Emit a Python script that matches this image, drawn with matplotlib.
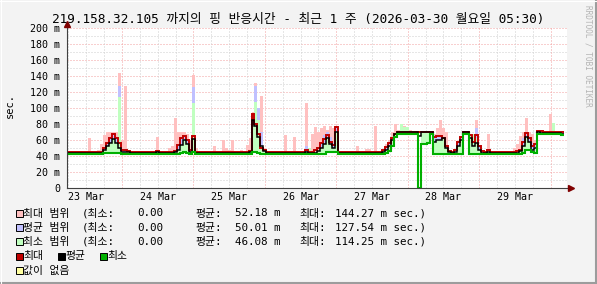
import numpy as np
import matplotlib
matplotlib.use("Agg")
import matplotlib.pyplot as plt
from matplotlib.patches import Rectangle
from matplotlib.lines import Line2D

W, H = 597, 284
FONT = ["DejaVu Sans Mono", "Noto Sans CJK KR"]
plt.rcParams["font.family"] = FONT

TITLE = "219.158.32.105 까지의 핑 반응시간 - 최근 1 주 (2026-03-30 월요일 05:30)"
DAY_LABELS = ["23 Mar", "24 Mar", "25 Mar", "26 Mar", "27 Mar", "28 Mar", "29 Mar"]
Y_TICKS = [0, 20, 40, 60, 80, 100, 120, 140, 160, 180, 200]
Y_LABELS = ["0", "20 m", "40 m", "60 m", "80 m", "100 m", "120 m", "140 m", "160 m", "180 m", "200 m"]

# legend text
RANGE_NAMES = ["최대 범위", "평균 범위", "최소 범위"]
RANGE_MIN = ["0.00", "0.00", "0.00"]
RANGE_AVG = ["52.18 m", "50.01 m", "46.08 m"]
RANGE_MAX = ["144.27 m sec.)", "127.54 m sec.)", "114.25 m sec.)"]

# hourly values (ms), one row per 24 h, starting 23 Mar 05:30
MAX_LINE = [
	45,45,45,45,45,45,45,45,45,45,45,45,50,56,62,67,62,56,48,47,46,45,45,45,
	45,45,45,45,45,45,46.5,45,45,45,45,45,46,54,62,65,60,48,65,45,45,45,45,45,
	45,45,45,45,45,45,45,45,45,45,45,45,45,46,93,80,68,50,47,45,45,45,45,45,
	45,45,45,45,45,45,45,45,47,45,45,47,50,56,61,66,58,54,76,45,45,45,45,45,
	45,45,45,45,45,45,45,45,45,45,47,51,56,62,68,69.5,69.5,69.5,69.5,69.5,69.5,69.5,69.5,69.5,
	69.5,69.5,69.5,64,65,65,62,53,46,44.5,47,57,64,69.5,69.5,66,58,66,52,46,45,47,45,45,
	45,45,45,45,45,45,45,46,48,58,69,62,52,55,71,71,70.5,69.5,69.5,69.5,69.5,69.5,69.5]
AVG_LINE = [
	44,44,44,44,44,44,44,44,44,44,44,44,47,52,56,61,56,50,45,45.5,45,44,44,44,
	44,44,44,44,44,44,45,44,44,44,44,44,44.5,48,54,60,55,45,61,44,44,44,44,44,
	44,44,44,44,44,44,44,44,44,44,44,44,44,44.5,85,77,64,52,46,44,44,44,44,44,
	44,44,44,44,44,44,44,44,45,44,44,44,46,50,55,62,55,50,70,44,44,44,44,44,
	44,44,44,44,44,44,44,44,44,44,45,48,53,60,68,69.5,69.5,69.5,69.5,69.5,69.5,69.5,65,69.5,
	69.5,69.5,69.5,57,60,60,63,50,45,44,45,53,60,69.5,69.5,62,52,56,47,44,44,45,44,44,
	44,44,44,44,44,44,44,44,46,53,64,58,48,50,69.5,69,69,69,69,69,69,69,68]
MIN_LINE = [
	42.5,42.5,42.5,42.5,42.5,42.5,42.5,42.5,42.5,42.5,42.5,42.5,43.5,44,44,44,44,43.5,42.5,42.5,42.5,42.5,42.5,42.5,
	42.5,42.5,42.5,42.5,42.5,42.5,42.5,42.5,42.5,42.5,42.5,42.5,42.5,42.5,44,44.5,44,42.5,45,42.5,42.5,42.5,42.5,42.5,
	42.5,42.5,42.5,42.5,42.5,42.5,42.5,42.5,42.5,42.5,42.5,42.5,42.5,42.5,44.5,45,44,42.5,42.5,42.5,42.5,42.5,42.5,42.5,
	42.5,42.5,42.5,42.5,42.5,42.5,42.5,42.5,42.5,42.5,42.5,42.5,42.5,42.5,42.5,45,45,45,45,42.5,42.5,42.5,42.5,42.5,
	42.5,42.5,42.5,42.5,42.5,42.5,42.5,42.5,42.5,42.5,42.5,44,46,52,64,67.5,67.5,67.5,67.5,67.5,67.5,67.5,0,55,
	55,56,67.5,42.5,42.5,42.5,42.5,42.5,42.5,42.5,42.5,42.5,42.5,68,68,43,43,43,43,42.5,42.5,42.5,42.5,42.5,
	42.5,42.5,42.5,42.5,42.5,42.5,42.5,42.5,42.5,44,47,48,45,44,67.5,67.5,67.5,67.5,67.5,67.5,67.5,67.5,66]
# upper edges of the range areas
MAX_RANGE = [
	45,45,45,45,46,45,45,62,45,45,47,55,66,70,70,70,70,144,60,128,45,45,45,46,
	45,45,45,45,45,45,64,45,45,45,50,52,87,70,70,70,68,60,141,50,45,45,46,45,
	45,52,45,45,60,50,48,60,45,45,47,45,54,62,95,131,100,115,50,45,45,45,45,45,
	45,66,45,45,64,45,45,45,106,45,68,76,70,75,78,72,78,75,78,45,45,45,45,45,
	45,52,45,45,49,49,45,78,45,45,48,55,60,70,80,72,78,78,76,72,70,70,70,70,
	70,70,70,68,75,85,75,70,46,45,48,58,65,70,70,67,67,85,54,46,45,67.5,45,45,
	45,45,46,45,45,45,50,55,65,70,87,70,68,60,72,72,71,70,92,72,70,70,70]
AVG_RANGE = [
	45,45,45,45,45,45,45,45,45,45,45,45,50,58,64,67,64,127,48,46,45,45,45,45,
	45,45,45,45,45,45,45,45,45,45,45,45,45,55,63,65,61,47,126,45,45,45,45,45,
	45,45,45,45,45,45,45,45,45,45,45,45,45,46,93,127,100,70,47,45,45,45,45,45,
	45,45,45,45,45,45,45,45,52,45,45,45,45,58,66,70,64,56,76,45,45,45,45,45,
	45,45,45,45,45,45,45,45,45,45,47,51,56,62,68,69.5,69.5,69.5,69.5,69.5,69.5,69.5,69.5,69.5,
	69.5,69.5,69.5,66,66,65,64,53,46,45,47,57,64,69.5,69.5,66,58,75,52,46,45,45,45,45,
	45,45,45,45,45,45,45,45,48,62,69,64,56,55,69.5,69.5,69.5,69.5,69.5,69.5,69.5,69.5,69.5]
MIN_RANGE = [
	44,44,44,44,44,44,44,44,44,44,44,44,47,52,56,61,56,114,45,45.5,45,44,44,44,
	44,44,44,44,44,44,45,44,44,44,44,44,44.5,48,54,60,55,45,106,44,44,44,44,44,
	44,44,44,44,44,44,44,44,44,44,44,44,44,44.5,85,108,85,52,46,44,44,44,44,44,
	44,44,44,44,44,44,44,44,45,50,44,44,46,50,55,62,55,50,70,44,44,44,44,44,
	44,44,44,44,44,44,44,44,44,44,45,48,53,60,68,69.5,80,76,76,69.5,69.5,69.5,65,69.5,
	69.5,69.5,69.5,57,60,60,63,50,45,44,45,53,60,69.5,69.5,67,67,62,48,44,44,45,44,44,
	44,44,44,44,44,44,44,44,46,53,64,58,48,50,69.5,69,69,69,69,81,69,69,68]

FIRST_MIDNIGHT = 18.5		# hours from graph start to 24 Mar 00:00


def px(x, y):
	"""pixel position -> figure fraction"""
	return x / W, 1 - y / H


fig = plt.figure(figsize=(W / 100, H / 100), dpi=100, facecolor="#F3F3F3")
ax = fig.add_axes([67 / W, (H - 188) / H, 500 / W, 160 / H])
ax.set_facecolor("white")
ax.set_xlim(0, 168)
ax.set_ylim(0, 200)

# grid
minor_c, major_c = "#CFCFCF", "#F2A0A0"
dots = (0, (1, 2))
for v in range(10, 201, 10):
	ax.axhline(v, color=major_c if v % 20 == 0 else minor_c, lw=0.72, ls=dots, zorder=0.5)
for hr in np.arange(0.5, 168, 6):
	is_day = abs((hr - FIRST_MIDNIGHT) % 24) < 1e-6
	ax.axvline(hr, color=major_c if is_day else minor_c, lw=0.72, ls=dots, zorder=0.5)

# range areas, drawn as hourly columns above the min line
hours = np.arange(len(MAX_LINE))
base = np.array(MIN_LINE, dtype=float)
ok = base > 0
for top, col in ((MAX_RANGE, "#FFC0C0"), (AVG_RANGE, "#C0C0FF"), (MIN_RANGE, "#C0FFC0")):
	hgt = np.clip(np.array(top, dtype=float) - base, 0, None)
	ax.bar(hours[ok], hgt[ok], bottom=base[ok], width=1.0, align="edge",
		color=col, linewidth=0, antialiased=False, zorder=1)

edges = np.arange(len(MAX_LINE) + 1)
ax.stairs(MAX_LINE, edges, baseline=None, color="#C00000", lw=1.4, zorder=3)
ax.stairs(AVG_LINE, edges, baseline=None, color="#000000", lw=1.1, zorder=3)
ax.stairs(MIN_LINE, edges, baseline=None, color="#00B000", lw=1.5, zorder=3)

# axes lines + arrows
for s in ax.spines.values():
	s.set_visible(False)
ax.plot([0, 0], [0, 207], color="#404040", lw=0.8, clip_on=False, zorder=4)
ax.plot([0, 169.5], [0, 0], color="#404040", lw=0.8, clip_on=False, zorder=4)
ax.plot([0], [205.5], marker="^", ms=4, color="#800000", clip_on=False, zorder=5)
ax.plot([169.4], [0], marker=">", ms=4, color="#800000", clip_on=False, zorder=5)

ax.set_yticks(Y_TICKS, Y_LABELS, fontsize=7.2)
ax.set_xticks([FIRST_MIDNIGHT - 12 + 24 * k for k in range(len(DAY_LABELS))], DAY_LABELS, fontsize=7.2)
ax.tick_params(length=0)
ax.tick_params(axis="y", pad=5)
ax.tick_params(axis="x", pad=3)

# title and side texts
fig.text(*px(298, 22.5), TITLE, fontsize=9.2, ha="center", va="baseline", family=FONT)
fig.text(*px(10, 106), "sec.", fontsize=7.5, rotation=90, ha="center", va="center")
fig.text(*px(588, 5), "RRDTOOL / TOBI OETIKER", fontsize=5.6, rotation=270,
	ha="center", va="top", color="#B4B4B4")

# legend
def swatch(x, yc, col):
	fig.add_artist(Rectangle(px(x, yc + 3.5), 7 / W, 7 / H, transform=fig.transFigure,
		facecolor=col, edgecolor="#000000", lw=0.7))

def label(x, yc, s, ha="left"):
	fig.text(*px(x, yc + 3.5), s, fontsize=7.8, ha=ha, va="baseline", family=FONT)

rows = [213, 227.3, 241.3]
for yc, name, col, mn, av, mx in zip(rows, RANGE_NAMES, ["#FFC0C0", "#C0C0FF", "#C0FFC0"],
		RANGE_MIN, RANGE_AVG, RANGE_MAX):
	swatch(15.5, yc, col)
	label(23, yc, name)
	label(82, yc, "(최소:")
	label(163, yc, mn, ha="right")
	label(195, yc, "평균:")
	label(235, yc, av)
	label(299, yc, "최대:")
	label(335, yc, mx)

swatch(15.5, 256, "#C00000")
label(23, 256, "최대")
swatch(57.5, 256, "#000000")
label(65, 256, "평균")
swatch(99.5, 256, "#00B000")
label(107, 256, "최소")
swatch(15.5, 270.3, "#FFFFA0")
label(23, 270.3, "값이 없음")

# image border
fig.add_artist(Line2D([0, 1], [1 - 283 / H, 1 - 283 / H], transform=fig.transFigure, color="#9C9C9C", lw=1.5))
fig.add_artist(Line2D([1 - 1 / W, 1 - 1 / W], [0, 1], transform=fig.transFigure, color="#9C9C9C", lw=1.5))
fig.add_artist(Line2D([0, 1], [1 - 0.5 / H, 1 - 0.5 / H], transform=fig.transFigure, color="#FFFFFF", lw=0.8))
fig.add_artist(Line2D([0.5 / W, 0.5 / W], [0, 1], transform=fig.transFigure, color="#FFFFFF", lw=0.8))

fig.savefig("out.png", dpi=100, facecolor=fig.get_facecolor())
